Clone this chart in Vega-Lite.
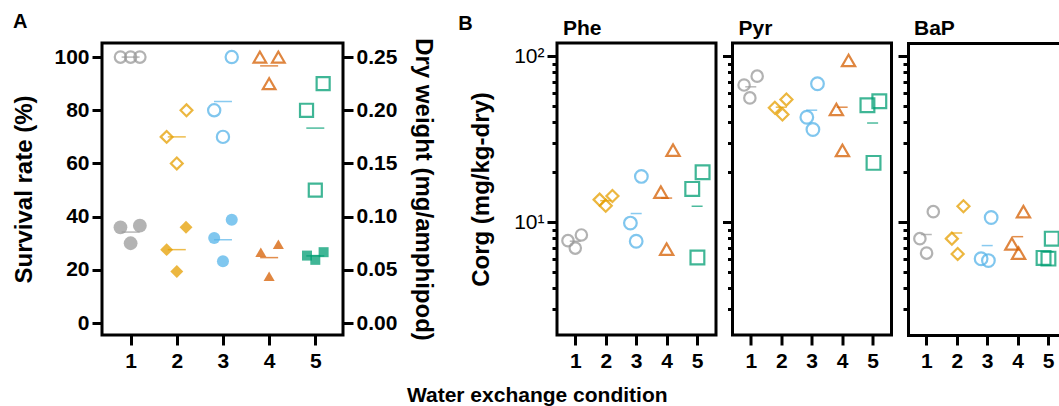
{
  "$schema": "https://vega.github.io/schema/vega-lite/v6.json",
  "padding": {"left": 11, "top": 10, "right": 0, "bottom": 0},
  "autosize": {"type": "pad"},
  "background": "white",
  "config": {
    "font": "Liberation Sans",
    "view": {"stroke": "black", "strokeWidth": 3},
    "axis": {
      "labelFont": "Liberation Sans", "labelFontWeight": "bold", "labelFontSize": 21, "labelColor": "black",
      "tickColor": "black", "tickWidth": 3, "tickSize": 10, "domain": false, "grid": false,
      "titleFont": "Liberation Sans", "titleFontSize": 24, "titleFontWeight": "bold", "titleColor": "black",
      "labelPadding": 3, "domainColor": "black", "domainWidth": 3, "domainCap": "square", "labelOverlap": false
    },
    "title": {"font": "Liberation Sans", "color": "black", "fontWeight": "bold"}
  },
  "title": {"text": "Water exchange condition", "orient": "bottom", "anchor": "middle", "fontSize": 21, "offset": 12},
  "datasets": {
    "surv": [
      {"cond": 1, "x": 0.78, "value": 100}, {"cond": 1, "x": 1.0, "value": 100}, {"cond": 1, "x": 1.2, "value": 100},
      {"cond": 2, "x": 2.21, "value": 80}, {"cond": 2, "x": 1.78, "value": 70}, {"cond": 2, "x": 2.0, "value": 60},
      {"cond": 3, "x": 2.81, "value": 80}, {"cond": 3, "x": 3.0, "value": 70}, {"cond": 3, "x": 3.19, "value": 100},
      {"cond": 4, "x": 3.8, "value": 100}, {"cond": 4, "x": 4.2, "value": 100}, {"cond": 4, "x": 4.0, "value": 90},
      {"cond": 5, "x": 4.81, "value": 80}, {"cond": 5, "x": 5.17, "value": 90}, {"cond": 5, "x": 5.0, "value": 50}
    ],
    "dry": [
      {"cond": 1, "x": 0.78, "value": 0.090}, {"cond": 1, "x": 1.2, "value": 0.0915}, {"cond": 1, "x": 1.0, "value": 0.075},
      {"cond": 2, "x": 2.2, "value": 0.090}, {"cond": 2, "x": 1.78, "value": 0.069}, {"cond": 2, "x": 2.0, "value": 0.0485},
      {"cond": 3, "x": 3.19, "value": 0.097}, {"cond": 3, "x": 2.81, "value": 0.080}, {"cond": 3, "x": 3.0, "value": 0.058},
      {"cond": 4, "x": 4.2, "value": 0.074}, {"cond": 4, "x": 3.82, "value": 0.0666}, {"cond": 4, "x": 4.0, "value": 0.044},
      {"cond": 5, "x": 5.18, "value": 0.0666}, {"cond": 5, "x": 4.82, "value": 0.0634}, {"cond": 5, "x": 5.0, "value": 0.0594}
    ],
    "amean": [
      {"cond": 1, "surv": 100, "dry": 0.0855},
      {"cond": 2, "surv": 70, "dry": 0.069},
      {"cond": 3, "surv": 83.3, "dry": 0.0783},
      {"cond": 4, "surv": 96.7, "dry": 0.0615},
      {"cond": 5, "surv": 73.3, "dry": 0.0631}
    ],
    "corg": [
      {"compound": "Phe", "cond": 1, "x": 1.2, "value": 8.4}, {"compound": "Phe", "cond": 1, "x": 0.76, "value": 7.76}, {"compound": "Phe", "cond": 1, "x": 1.0, "value": 7.0},
      {"compound": "Phe", "cond": 2, "x": 1.8, "value": 13.7}, {"compound": "Phe", "cond": 2, "x": 2.22, "value": 14.4}, {"compound": "Phe", "cond": 2, "x": 2.0, "value": 12.6},
      {"compound": "Phe", "cond": 3, "x": 3.17, "value": 18.9}, {"compound": "Phe", "cond": 3, "x": 2.81, "value": 9.9}, {"compound": "Phe", "cond": 3, "x": 3.0, "value": 7.7},
      {"compound": "Phe", "cond": 4, "x": 4.21, "value": 27.2}, {"compound": "Phe", "cond": 4, "x": 3.81, "value": 15.2}, {"compound": "Phe", "cond": 4, "x": 4.0, "value": 6.9},
      {"compound": "Phe", "cond": 5, "x": 5.18, "value": 20.0}, {"compound": "Phe", "cond": 5, "x": 4.84, "value": 15.9}, {"compound": "Phe", "cond": 5, "x": 5.01, "value": 6.15},
      {"compound": "Pyr", "cond": 1, "x": 1.21, "value": 75.8}, {"compound": "Pyr", "cond": 1, "x": 0.78, "value": 67}, {"compound": "Pyr", "cond": 1, "x": 0.97, "value": 56.1},
      {"compound": "Pyr", "cond": 2, "x": 2.17, "value": 54.8}, {"compound": "Pyr", "cond": 2, "x": 1.79, "value": 48.9}, {"compound": "Pyr", "cond": 2, "x": 2.04, "value": 44.6},
      {"compound": "Pyr", "cond": 3, "x": 3.19, "value": 68.2}, {"compound": "Pyr", "cond": 3, "x": 2.84, "value": 42.9}, {"compound": "Pyr", "cond": 3, "x": 3.04, "value": 36.2},
      {"compound": "Pyr", "cond": 4, "x": 4.21, "value": 94.2}, {"compound": "Pyr", "cond": 4, "x": 3.81, "value": 47.8}, {"compound": "Pyr", "cond": 4, "x": 4.01, "value": 27.1},
      {"compound": "Pyr", "cond": 5, "x": 5.22, "value": 53.6}, {"compound": "Pyr", "cond": 5, "x": 4.83, "value": 50.7}, {"compound": "Pyr", "cond": 5, "x": 5.03, "value": 22.8},
      {"compound": "BaP", "cond": 1, "x": 1.23, "value": 11.6}, {"compound": "BaP", "cond": 1, "x": 0.79, "value": 7.98}, {"compound": "BaP", "cond": 1, "x": 1.01, "value": 6.53},
      {"compound": "BaP", "cond": 2, "x": 2.22, "value": 12.5}, {"compound": "BaP", "cond": 2, "x": 1.84, "value": 7.98}, {"compound": "BaP", "cond": 2, "x": 2.03, "value": 6.45},
      {"compound": "BaP", "cond": 3, "x": 3.13, "value": 10.7}, {"compound": "BaP", "cond": 3, "x": 2.8, "value": 6.04}, {"compound": "BaP", "cond": 3, "x": 3.04, "value": 5.89},
      {"compound": "BaP", "cond": 4, "x": 4.19, "value": 11.6}, {"compound": "BaP", "cond": 4, "x": 3.81, "value": 7.42}, {"compound": "BaP", "cond": 4, "x": 4.03, "value": 6.53},
      {"compound": "BaP", "cond": 5, "x": 5.12, "value": 7.98}, {"compound": "BaP", "cond": 5, "x": 4.85, "value": 6.11}, {"compound": "BaP", "cond": 5, "x": 5.01, "value": 6.05}
    ],
    "cmean": [
      {"compound": "Phe", "cond": 1, "mean": 7.7}, {"compound": "Phe", "cond": 2, "mean": 13.5}, {"compound": "Phe", "cond": 3, "mean": 11.3}, {"compound": "Phe", "cond": 4, "mean": 14.0}, {"compound": "Phe", "cond": 5, "mean": 12.5},
      {"compound": "Pyr", "cond": 1, "mean": 65.4}, {"compound": "Pyr", "cond": 2, "mean": 49.3}, {"compound": "Pyr", "cond": 3, "mean": 47.3}, {"compound": "Pyr", "cond": 4, "mean": 49.3}, {"compound": "Pyr", "cond": 5, "mean": 39.6},
      {"compound": "BaP", "cond": 1, "mean": 8.45}, {"compound": "BaP", "cond": 2, "mean": 8.63}, {"compound": "BaP", "cond": 3, "mean": 7.25}, {"compound": "BaP", "cond": 4, "mean": 8.2}, {"compound": "BaP", "cond": 5, "mean": 6.66}
    ]
  },
  "bounds": "flush",
  "spacing": 214,
  "hconcat": [
    {
      "title": {"text": "A", "anchor": "start", "frame": "bounds", "fontSize": 20, "offset": 6},
      "width": 241,
      "height": 292,
      "layer": [
        {
          "layer": [
            {
              "data": {"name": "surv"},
              "mark": {"type": "point", "filled": false, "strokeWidth": 2.2, "opacity": 0.75},
              "encoding": {
                "x": {"field": "x", "type": "quantitative", "scale": {"domain": [0.38, 5.6], "nice": false, "zero": false}, "axis": {"values": [1, 2, 3, 4, 5], "title": null, "labelPadding": 5, "labelOverlap": false}},
                "y": {"field": "value", "type": "quantitative", "scale": {"domain": [-4.5, 105.3], "nice": false, "zero": false}, "axis": {"values": [0, 20, 40, 60, 80, 100], "title": "Survival rate (%)", "titlePadding": 17}},
                "color": {"field": "cond", "type": "nominal", "scale": {"range": ["#999999", "#E69F00", "#56B4E9", "#D55E00", "#009E73"]}, "legend": null},
                "shape": {"field": "cond", "type": "nominal", "scale": {"range": ["circle", "diamond", "circle", "triangle-up", "square"]}, "legend": null},
                "size": {"field": "cond", "type": "ordinal", "scale": {"range": [130, 170, 130, 380, 150]}, "legend": null}
              }
            },
            {
              "data": {"name": "amean"},
              "mark": {"type": "tick", "orient": "horizontal", "size": 18, "thickness": 1.5},
              "encoding": {
                "x": {"field": "cond", "type": "quantitative", "axis": {"values": [1, 2, 3, 4, 5], "title": null, "labelPadding": 5, "labelOverlap": false}},
                "y": {"field": "surv", "type": "quantitative"},
                "color": {"field": "cond", "type": "nominal", "legend": null}
              }
            }
          ]
        },
        {
          "layer": [
            {
              "data": {"name": "dry"},
              "mark": {"type": "point", "filled": true, "opacity": 0.75},
              "encoding": {
                "x": {"field": "x", "type": "quantitative", "axis": {"values": [1, 2, 3, 4, 5], "title": null, "labelPadding": 5, "labelOverlap": false}},
                "y": {"field": "value", "type": "quantitative", "scale": {"domain": [-0.01125, 0.26325], "nice": false, "zero": false}, "axis": {"orient": "right", "values": [0, 0.05, 0.1, 0.15, 0.2, 0.25], "format": ".2f", "title": "Dry weight (mg/amphipod)", "titlePadding": 14}},
                "color": {"field": "cond", "type": "nominal", "legend": null},
                "shape": {"field": "cond", "type": "nominal", "legend": null},
                "size": {"field": "cond", "type": "ordinal", "scale": {"range": [190, 100, 190, 400, 190]}, "legend": null}
              }
            },
            {
              "data": {"name": "amean"},
              "mark": {"type": "tick", "orient": "horizontal", "size": 18, "thickness": 1.5},
              "encoding": {
                "x": {"field": "cond", "type": "quantitative", "axis": {"values": [1, 2, 3, 4, 5], "title": null, "labelPadding": 5, "labelOverlap": false}},
                "y": {"field": "dry", "type": "quantitative"},
                "color": {"field": "cond", "type": "nominal", "legend": null}
              }
            }
          ]
        }
      ],
      "resolve": {"scale": {"y": "independent", "size": "independent"}, "axis": {"y": "independent"}}
    },
    {
      "title": {"text": "B", "anchor": "start", "frame": "bounds", "fontSize": 20, "offset": -17, "dx": -10},
      "bounds": "flush",
      "spacing": 16.5,
      "hconcat": [
        {
          "title": {"text": "Phe", "anchor": "start", "frame": "group", "fontSize": 21, "dx": 6, "offset": 4},
          "width": 159,
          "height": 292,
          "layer": [
            {
              "data": {"name": "corg"},
              "transform": [{"filter": "datum.compound === 'Phe'"}],
              "mark": {"type": "point", "filled": false, "strokeWidth": 2.2, "opacity": 0.75},
              "encoding": {
                "x": {"field": "x", "type": "quantitative", "scale": {"domain": [0.4, 5.62], "nice": false, "zero": false}, "axis": {"values": [1, 2, 3, 4, 5], "title": null, "labelPadding": 5, "labelOverlap": false}},
                "y": {"field": "value", "type": "quantitative", "scale": {"type": "log", "domain": [2.1, 120], "nice": false}, "axis": {"values": [10, 100], "labelExpr": "datum.value >= 100 ? '10²' : '10¹'", "labelFontWeight": "normal", "title": "Corg (mg/kg-dry)", "titlePadding": 20}},
                "color": {"field": "cond", "type": "nominal", "scale": {"range": ["#999999", "#E69F00", "#56B4E9", "#D55E00", "#009E73"]}, "legend": null},
                "shape": {"field": "cond", "type": "nominal", "scale": {"range": ["circle", "diamond", "circle", "triangle-up", "square"]}, "legend": null},
                "size": {"field": "cond", "type": "ordinal", "scale": {"range": [130, 190, 130, 400, 170]}, "legend": null}
              }
            },
            {
              "data": {"name": "cmean"},
              "transform": [{"filter": "datum.compound === 'Phe'"}],
              "mark": {"type": "tick", "orient": "horizontal", "size": 11, "thickness": 1.5},
              "encoding": {
                "x": {"field": "cond", "type": "quantitative", "axis": {"values": [1, 2, 3, 4, 5], "title": null, "labelPadding": 5, "labelOverlap": false}},
                "y": {"field": "mean", "type": "quantitative", "axis": {"orient": "left", "values": [3, 4, 5, 6, 7, 8, 9, 20, 30, 40, 50, 60, 70, 80, 90], "labels": false, "tickSize": 5, "title": null}},
                "color": {"field": "cond", "type": "nominal", "legend": null}
              }
            }
          ],
          "resolve": {"axis": {"y": "independent"}}
        },
        {
          "title": {"text": "Pyr", "anchor": "start", "frame": "group", "fontSize": 21, "dx": 6, "offset": 4},
          "width": 159,
          "height": 292,
          "layer": [
            {
              "data": {"name": "corg"},
              "transform": [{"filter": "datum.compound === 'Pyr'"}],
              "mark": {"type": "point", "filled": false, "strokeWidth": 2.2, "opacity": 0.75},
              "encoding": {
                "x": {"field": "x", "type": "quantitative", "scale": {"domain": [0.4, 5.62], "nice": false, "zero": false}, "axis": {"values": [1, 2, 3, 4, 5], "title": null, "labelPadding": 5, "labelOverlap": false}},
                "y": {"field": "value", "type": "quantitative", "scale": {"type": "log", "domain": [2.1, 120], "nice": false}, "axis": {"values": [10, 100], "labels": false, "title": null}},
                "color": {"field": "cond", "type": "nominal", "scale": {"range": ["#999999", "#E69F00", "#56B4E9", "#D55E00", "#009E73"]}, "legend": null},
                "shape": {"field": "cond", "type": "nominal", "scale": {"range": ["circle", "diamond", "circle", "triangle-up", "square"]}, "legend": null},
                "size": {"field": "cond", "type": "ordinal", "scale": {"range": [130, 190, 130, 400, 170]}, "legend": null}
              }
            },
            {
              "data": {"name": "cmean"},
              "transform": [{"filter": "datum.compound === 'Pyr'"}],
              "mark": {"type": "tick", "orient": "horizontal", "size": 11, "thickness": 1.5},
              "encoding": {
                "x": {"field": "cond", "type": "quantitative", "axis": {"values": [1, 2, 3, 4, 5], "title": null, "labelPadding": 5, "labelOverlap": false}},
                "y": {"field": "mean", "type": "quantitative", "axis": {"orient": "left", "values": [3, 4, 5, 6, 7, 8, 9, 20, 30, 40, 50, 60, 70, 80, 90], "labels": false, "tickSize": 5, "title": null}},
                "color": {"field": "cond", "type": "nominal", "legend": null}
              }
            }
          ],
          "resolve": {"axis": {"y": "independent"}}
        },
        {
          "title": {"text": "BaP", "anchor": "start", "frame": "group", "fontSize": 21, "dx": 6, "offset": 4},
          "width": 151,
          "height": 292,
          "view": {"stroke": null},
          "layer": [
            {
              "data": {"name": "corg"},
              "transform": [{"filter": "datum.compound === 'BaP'"}],
              "mark": {"type": "point", "filled": false, "strokeWidth": 2.2, "opacity": 0.75},
              "encoding": {
                "x": {"field": "x", "type": "quantitative", "scale": {"domain": [0.4, 5.357], "nice": false, "zero": false}, "axis": {"values": [1, 2, 3, 4, 5], "title": null, "labelPadding": 5, "domain": true, "labelOverlap": false}},
                "y": {"field": "value", "type": "quantitative", "scale": {"type": "log", "domain": [2.1, 120], "nice": false}, "axis": {"values": [10, 100], "labels": false, "title": null, "domain": true}},
                "color": {"field": "cond", "type": "nominal", "scale": {"range": ["#999999", "#E69F00", "#56B4E9", "#D55E00", "#009E73"]}, "legend": null},
                "shape": {"field": "cond", "type": "nominal", "scale": {"range": ["circle", "diamond", "circle", "triangle-up", "square"]}, "legend": null},
                "size": {"field": "cond", "type": "ordinal", "scale": {"range": [130, 190, 130, 400, 170]}, "legend": null}
              }
            },
            {
              "data": {"name": "cmean"},
              "transform": [{"filter": "datum.compound === 'BaP'"}],
              "mark": {"type": "tick", "orient": "horizontal", "size": 11, "thickness": 1.5},
              "encoding": {
                "x": {"field": "cond", "type": "quantitative", "axis": {"orient": "top", "domain": true, "ticks": false, "labels": false, "title": null}},
                "y": {"field": "mean", "type": "quantitative", "axis": {"orient": "left", "values": [3, 4, 5, 6, 7, 8, 9, 20, 30, 40, 50, 60, 70, 80, 90], "labels": false, "tickSize": 5, "title": null}},
                "color": {"field": "cond", "type": "nominal", "legend": null}
              }
            }
          ],
          "resolve": {"axis": {"y": "independent", "x": "independent"}}
        }
      ]
    }
  ]
}
